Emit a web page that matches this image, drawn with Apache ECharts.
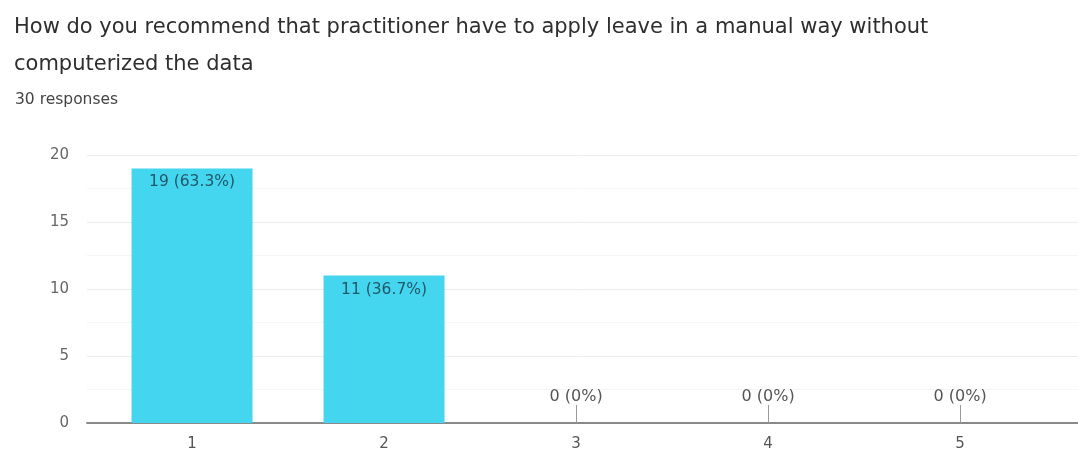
<!DOCTYPE html>
<html>
<head>
<meta charset="utf-8">
<script src="https://cdn.jsdelivr.net/npm/echarts@6/dist/echarts.min.js"></script>
<style>
  html, body { margin: 0; padding: 0; background: #fff; }
  #chart { width: 1078px; height: 450px; }
</style>
</head>
<body>
<div id="chart"></div>
<script>
// Survey answers: rating option and number of responses
const categories = [1, 2, 3, 4, 5];
const counts = [19, 11, 0, 0, 0];
const yTicks = [0, 5, 10, 15, 20];
const questionText = 'How do you recommend that practitioner have to apply leave in a manual way without\ncomputerized the data';
const responsesText = '30 responses';

const total = counts.reduce((a, b) => a + b, 0);
const pct = v => {
  const p = Math.round(v / total * 1000) / 10;
  return p + '%';
};

// Options with no responses get their label above a short stem on the axis
const zeroCats = categories.filter((c, i) => counts[i] === 0);

const FONT = '"DejaVu Sans", "Noto Sans", sans-serif';

const chart = echarts.init(document.getElementById('chart'));
chart.setOption({
  animation: false,
  textStyle: { fontFamily: FONT },
  title: [
    {
      text: questionText,
      left: 9, top: 4,
      textStyle: { fontFamily: FONT, fontSize: 21, fontWeight: 'normal', color: '#2e2e2e', lineHeight: 37 }
    },
    {
      text: responsesText,
      left: 10, top: 87,
      textStyle: { fontFamily: FONT, fontSize: 15.5, fontWeight: 'normal', color: '#444' }
    }
  ],
  grid: { left: 87, right: 0, top: 155, bottom: 27, outerBoundsMode: 'none' },
  xAxis: {
    type: 'value',
    min: 0.453,
    max: 5.614,
    splitLine: { show: false },
    axisLine: { show: true, lineStyle: { color: '#8a8a8a', width: 2 } },
    axisTick: {
      show: true,
      inside: true,
      length: 18,
      customValues: zeroCats,
      lineStyle: { color: '#9a9a9a', width: 1 }
    },
    axisLabel: {
      customValues: categories,
      color: '#555',
      fontSize: 15,
      margin: 14
    }
  },
  yAxis: {
    type: 'value',
    min: yTicks[0],
    max: yTicks[yTicks.length - 1],
    interval: 5,
    axisLine: { show: false },
    axisTick: { show: false },
    axisLabel: { color: '#666', fontSize: 15, margin: 18 },
    splitLine: { lineStyle: { color: '#ececec' } },
    minorTick: { show: false, splitNumber: 2 },
    minorSplitLine: { show: true, lineStyle: { color: '#f6f6f6' } }
  },
  series: [{
    type: 'bar',
    data: categories.map((c, i) => counts[i] === 0
      ? { value: [c, counts[i]], label: { color: '#555', fontSize: 16 } }
      : [c, counts[i]]),
    barWidth: 121,
    itemStyle: { color: '#45d6ef' },
    label: {
      show: true,
      formatter: p => p.value[1] + ' (' + pct(p.value[1]) + ')',
      fontSize: 15.5,
      position: 'insideTop',
      distance: 6,
      color: '#21586a'
    },
    labelLayout: p => {
      if (counts[p.dataIndex] === 0) {
        return { y: p.rect.y - 26, align: 'center', verticalAlign: 'middle' };
      }
      return {};
    }
  }]
});
</script>
</body>
</html>
